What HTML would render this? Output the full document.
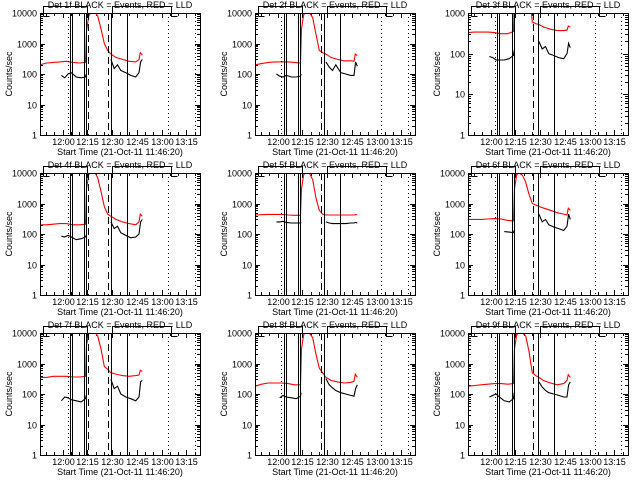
<!DOCTYPE html>
<html><head><meta charset="utf-8"><style>
html,body{margin:0;padding:0;background:#fff;width:640px;height:480px;overflow:hidden}
svg{display:block}
text{font-family:"Liberation Sans",sans-serif;font-size:9px;fill:#000}
</style></head><body>
<svg id="chart" width="640" height="480" viewBox="0 0 640 480"></svg>
<script>
const detNames = ["1f","2f","3f","4f","5f","6f","7f","8f","9f"];
const tickLabels = ["12:00","12:15","12:30","12:45","13:00","13:15"];
const tickMinutes = [13.67,28.67,43.67,58.67,73.67,88.67];
const redTimes = [0,4,8,12,16,20,24,27.6,28.2,29.5,31,33,35,37,39,41,43,46,50,54,58,60,60.8,62];
const blackTimes = [13,15,17,19,22,25,27.5,28,35,43,45,47,49,52,55,58,60,61,62];
const red1 = [200,230,240,250,260,240,230,240,2500,8000,10500,11000,8000,3000,1000,600,450,350,300,260,250,300,500,420];
const black1 = [90,75,100,110,80,75,80,100,null,300,150,200,130,110,90,80,110,250,300];
const red2 = [200,220,240,250,250,250,240,230,3000,9000,10500,10500,7000,2000,600,500,450,350,300,270,270,260,450,400];
const black2 = [100,85,80,90,80,80,85,100,null,250,170,130,200,110,100,90,90,250,180];
const red3 = [330,340,340,340,330,310,310,350,3000,5000,5000,5000,5000,5000,600,550,520,450,400,370,370,380,480,450];
const black3 = [85,80,70,70,70,75,90,120,null,200,130,150,100,90,80,75,100,180,140];
const red4 = [200,200,210,220,220,200,200,210,3000,9000,10500,11000,7000,2500,800,450,380,300,250,220,200,250,450,380];
const black4 = [85,80,90,80,65,70,80,90,null,250,150,180,110,90,75,80,100,250,300];
const red5 = [420,430,440,440,440,420,410,410,3000,9000,10500,10000,6000,1500,600,450,420,420,420,420,420,420,430,430];
const black5 = [250,250,260,240,230,230,230,240,null,250,230,220,220,220,220,230,230,240,230];
const red6 = [300,300,300,310,320,310,280,270,3000,9000,10000,8500,5000,2000,1000,900,800,700,600,500,450,420,700,600];
const black6 = [null,null,null,null,120,115,110,130,null,450,250,300,200,170,150,130,180,450,300];
const red7 = [350,350,380,380,380,360,360,380,4000,9500,10500,11000,8000,3000,800,650,500,450,400,380,400,420,600,550];
const black7 = [60,80,75,65,60,55,70,90,null,300,150,180,100,80,70,60,80,250,280];
const red8 = [180,210,230,230,230,220,200,200,3000,9000,10500,10000,7000,2000,700,500,350,280,250,230,240,260,450,350];
const black8 = [null,75,90,80,75,70,85,110,null,320,200,160,130,110,100,90,85,150,200];
const red9 = [180,190,200,210,220,220,210,220,3000,9000,10000,10000,8000,2500,500,400,350,270,230,200,220,280,430,350];
const black9 = [80,90,100,80,60,55,70,110,null,250,170,130,110,100,90,80,80,200,250];
const reds=[red1,red2,red3,red4,red5,red6,red7,red8,red9];
const blacks=[black1,black2,black3,black4,black5,black6,black7,black8,black9];
const solidA=[18.2,19.4,26.7,27.9,43,52.7], dashedA=[29.1,41.2], dottedA=[17,77.6,94];
const solidB=[17.6,18.8,26.1,27.3,41.8,51.5], dashedB=[40], dottedB=[15.8,76.4,92.7];
const solidC=[17.6,18.8,26.7,27.9,42.4,52.1], dashedC=[39.4], dottedC=[16.4,77,92.7];
const solids=[solidA,solidB,solidC,solidA,solidB,solidC,solidA,solidB,solidC];
const dasheds=[dashedA,dashedB,dashedC,dashedA,dashedB,dashedC,dashedA,dashedB,dashedC];
const dotteds=[dottedA,dottedB,dottedC,dottedA,dottedB,dottedC,dottedA,dottedB,dottedC];
const yMaxDecade=[4,4,3,4,4,4,4,4,4];

const NS="http://www.w3.org/2000/svg";
const svg=document.getElementById('chart');
function mk(tag,attrs,parent){const e=document.createElementNS(NS,tag);for(const k in attrs)e.setAttribute(k,attrs[k]);(parent||svg).appendChild(e);return e;}
const colX=[40,255,468], rowY=[13,173,333], W=160, H=122, TMAX=97;
const px=v=>Math.round(v)+0.5;

for(let p=0;p<9;p++){
  const x0=colX[p%3], y0=rowY[Math.floor(p/3)];
  const top=yMaxDecade[p];
  const xs=t=>x0+t*W/TMAX;
  const ys=v=>y0+H-Math.log10(v)/top*H;
  const g=mk('g',{});
  
  
  const cid='clip'+p;
  const cp=mk('clipPath',{id:cid},g);mk('rect',{x:x0,y:y0,width:W,height:H},cp);
  const ti=mk('text',{x:x0+80,y:y0-5,'text-anchor':'middle','font-size':'10'},g);
  ti.textContent='Det '+detNames[p]+' BLACK = Events, RED = LLD';
  
  
  const bx=[x0+3,x0+47,x0+72,x0+131].map(px);
  const br=mk('path',{d:`M${bx[0]},${y0+3.5}h6M${bx[0]},${y0+3.5}V${y0-6.5}H${bx[1]}V${y0+3.5}M${bx[2]},${y0+3.5}V${y0-6.5}H${bx[3]}V${y0+3.5}h6`,stroke:'#000',fill:'none','stroke-width':1},g);
  
  
  const yl=mk('text',{x:0,y:0,'text-anchor':'middle','font-size':'8',transform:`translate(${x0-28},${y0+61}) rotate(-90)`},g);
  yl.textContent='Counts/sec';
  
  
  const xl=mk('text',{x:x0+80,y:y0+142,'text-anchor':'middle','font-size':'9'},g);
  xl.textContent='Start Time (21-Oct-11 11:46:20)';
  
  
  for(let d=0;d<=top;d++){
    const y=px(ys(Math.pow(10,d)));
    const lb=mk('text',{x:x0-3,y:y+3,'text-anchor':'end','font-size':'8'},g);
    lb.textContent=String(Math.pow(10,d));
    
    
    mk('path',{d:`M${x0},${y}h5M${x0+W},${y}h-5`,stroke:'#000'},g);
    if(d<top)for(let m=2;m<10;m++){const yy=px(ys(m*Math.pow(10,d)));mk('path',{d:`M${x0},${yy}h3M${x0+W},${yy}h-3`,stroke:'#000'},g);}
  }
  for(let i=0;i<tickLabels.length;i++){
    const x=px(xs(tickMinutes[i]));
    const lb=mk('text',{x:x,y:y0+132,'text-anchor':'middle','font-size':'8'},g);
    lb.textContent=tickLabels[i];
    
    
    mk('path',{d:`M${x},${y0+H}v-5M${x},${y0}v5`,stroke:'#000'},g);
  }
  for(let t=-6.33;t<TMAX;t+=5){const x=px(xs(t));if(x<x0)continue;mk('path',{d:`M${x},${y0+H}v-3M${x},${y0}v3`,stroke:'#000'},g);}
  const lg=mk('g',{'clip-path':`url(#${cid})`},g);
  function line(ts,vs,col,name){
    let d='',pen=false;
    for(let i=0;i<ts.length;i++){
      if(vs[i]==null){pen=false;continue;}
      d+=(pen?'L':'M')+xs(ts[i]).toFixed(1)+','+ys(vs[i]).toFixed(1);pen=true;
    }
    const e=mk('path',{d:d,stroke:col,fill:'none','stroke-width':1.1},lg);
    
    
  }
  line(redTimes,reds[p],'#ff0000','lld-red-series');
  line(blackTimes,blacks[p],'#000','events-black-series');
  solids[p].forEach(t=>{const x=px(xs(t));const e=mk('line',{x1:x,x2:x,y1:y0,y2:y0+H,stroke:'#000','stroke-width':1},g);});
  dasheds[p].forEach(t=>{const x=px(xs(t));const e=mk('line',{x1:x,x2:x,y1:y0,y2:y0+H,stroke:'#000','stroke-width':1,'stroke-dasharray':'7,4'},g);});
  dotteds[p].forEach(t=>{const x=px(xs(t));const e=mk('line',{x1:x,x2:x,y1:y0,y2:y0+H,stroke:'#000','stroke-width':1,'stroke-dasharray':'1,3'},g);});
  const bxr=mk('rect',{x:x0+0.5,y:y0+0.5,width:W,height:H,fill:'none',stroke:'#000','stroke-width':1},g);
  
  
}
</script>
</body></html>
